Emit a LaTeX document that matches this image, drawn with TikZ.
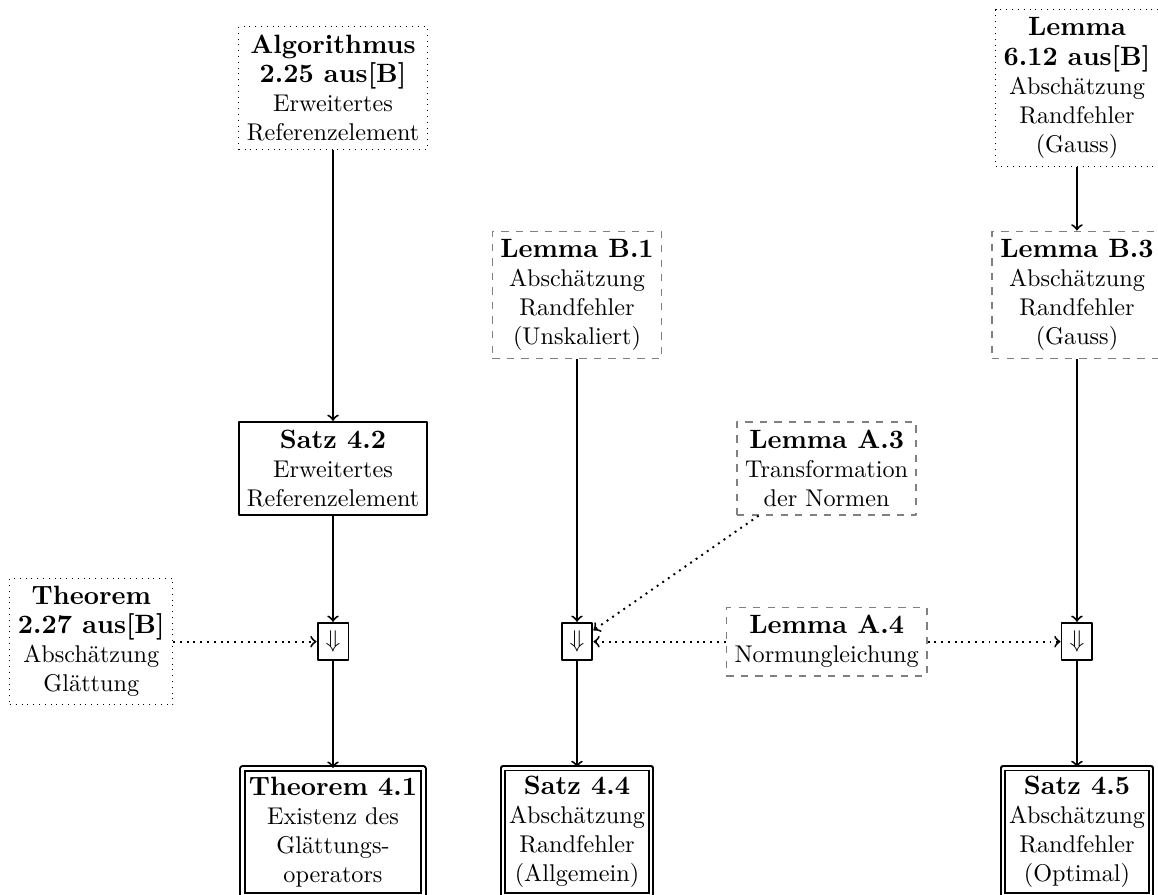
\documentclass[tikz,border=0pt]{standalone}
\usepackage{fontspec}
\newcommand{\titel}[1]{{\fontsize{10.95}{13.6}\selectfont\bfseries #1}}
\begin{document}
\begin{tikzpicture}[>=to,line join=round,
	quelle/.style={draw,dotted,align=center},
	anhang/.style={draw=gray,dashed,semithick,align=center},
	satz/.style={draw,thick,align=center},
	ziel/.style={draw,thick,double,double distance=1.2pt,inner xsep=2.5pt,align=center},
	folgt/.style={draw,thick}]
	\useasboundingbox (0,0) rectangle (16.82,-13.0);
	% Zeile 1
	\node[quelle] (alg225) at (4.837,-1.278) {\titel{Algorithmus}\\\titel{2.25 aus[B]}\\Erweitertes\\Referenzelement};
	\node[quelle] (lem612) at (15.643,-1.278) {\titel{Lemma}\\\titel{6.12 aus[B]}\\Absch\"atzung\\Randfehler\\(Gauss)};
	% Zeile 2
	\node[anhang] (lemB1) at (8.381,-4.285) {\titel{Lemma B.1}\\Absch\"atzung\\Randfehler\\(Unskaliert)};
	\node[anhang] (lemB3) at (15.643,-4.285) {\titel{Lemma B.3}\\Absch\"atzung\\Randfehler\\(Gauss)};
	% Zeile 3
	\node[satz] (satz42) at (4.837,-6.805) {\titel{Satz 4.2}\\Erweitertes\\Referenzelement};
	\node[anhang] (lemA3) at (12.007,-6.805) {\titel{Lemma A.3}\\Transformation\\der Normen};
	% Zeile 4
	\node[quelle] (thm227) at (1.326,-9.32) {\titel{Theorem}\\\titel{2.27 aus[B]}\\Absch\"atzung\\Gl\"attung};
	\node[folgt] (f1) at (4.837,-9.32) {$\Downarrow$};
	\node[folgt] (f2) at (8.381,-9.32) {$\Downarrow$};
	\node[anhang] (lemA4) at (12.007,-9.32) {\titel{Lemma A.4}\\Normungleichung};
	\node[folgt] (f3) at (15.643,-9.32) {$\Downarrow$};
	% Zeile 5
	\node[ziel] (thm41) at (4.837,-12.084) {\titel{Theorem 4.1}\\Existenz des\\Gl\"attungs-\\operators};
	\node[ziel] (satz44) at (8.381,-12.084) {\titel{Satz 4.4}\\Absch\"atzung\\Randfehler\\(Allgemein)};
	\node[ziel] (satz45) at (15.643,-12.084) {\titel{Satz 4.5}\\Absch\"atzung\\Randfehler\\(Optimal)};
	% Pfeile
	\draw[->,thick] (alg225) -- (satz42);
	\draw[->,thick] (satz42) -- (f1);
	\draw[->,thick] (f1) -- (thm41);
	\draw[->,thick] (lemB1) -- (f2);
	\draw[->,thick] (f2) -- (satz44);
	\draw[->,thick] (lem612) -- (lemB3);
	\draw[->,thick] (lemB3) -- (f3);
	\draw[->,thick] (f3) -- (satz45);
	\draw[->,thick,dotted] (thm227) -- (f1);
	\draw[->,thick,dotted] (lemA3) -- (f2);
	\draw[->,thick,dotted] (lemA4) -- (f2);
	\draw[->,thick,dotted] (lemA4) -- (f3);
\end{tikzpicture}
\end{document}
